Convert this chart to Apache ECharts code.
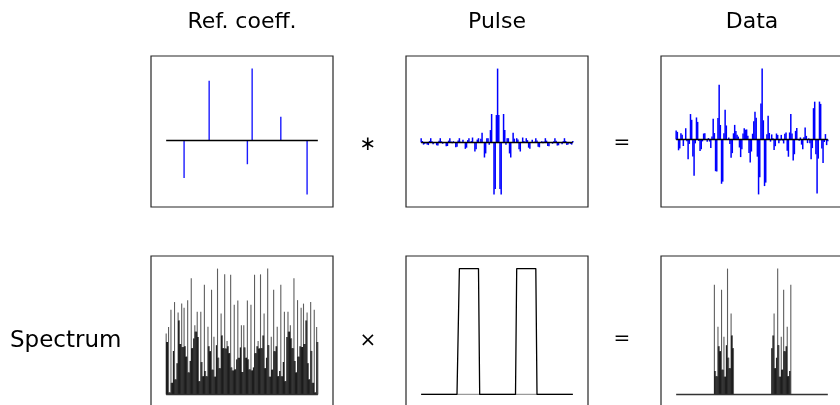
<!DOCTYPE html>
<html><head><meta charset="utf-8">
<script src="https://cdn.jsdelivr.net/npm/echarts@6/dist/echarts.min.js"></script>
<style>html,body{margin:0;padding:0;background:#fff}#c{width:840px;height:405px}</style>
</head><body><div id="c"></div>
<script>
// ---------- data ----------
const nSamples = 128;
const columnTitles = ['Ref. coeff.', 'Pulse', 'Data'];
const rowLabel = 'Spectrum';
const operators = ['\u2217', '=', '\u00D7', '='];

// reflection coefficients: sample index and amplitude
const refPositions = [15, 36, 68, 72, 96, 118];
const refValues = [-0.52, 0.83, -0.33, 1.0, 0.33, -0.75];

// zero-phase band-pass pulse, 128 samples, peak at sample 64
const pulseValues = [
0.059, 0.021, -0.028, -0.017, 0, -0.027, -0.034, 0.022, 0.059, 0.019,
-0.022, -0.007, 0, -0.037, -0.040, 0.024, 0.059, 0.017, -0.016, 0.004,
0, -0.049, -0.047, 0.026, 0.059, 0.015, -0.008, 0.018, 0, -0.064,
-0.056, 0.029, 0.059, 0.012, 0.003, 0.037, 0, -0.085, -0.069, 0.033,
0.059, 0.007, 0.020, 0.068, 0, -0.121, -0.092, 0.040, 0.059, -0.002,
0.053, 0.131, 0, -0.202, -0.147, 0.059, 0.059, -0.029, 0.169, 0.386,
0, -0.701, -0.628, 0.372, 1.000, 0.372, -0.628, -0.701, 0, 0.386,
0.169, -0.029, 0.059, 0.059, -0.147, -0.202, 0, 0.131, 0.053, -0.002,
0.059, 0.040, -0.092, -0.121, 0, 0.068, 0.020, 0.007, 0.059, 0.033,
-0.069, -0.085, 0, 0.037, 0.003, 0.012, 0.059, 0.029, -0.056, -0.064,
0, 0.018, -0.008, 0.015, 0.059, 0.026, -0.047, -0.049, 0, 0.004,
-0.016, 0.017, 0.059, 0.024, -0.040, -0.037, 0, -0.007, -0.022, 0.019,
0.059, 0.022, -0.034, -0.027, 0, -0.017, -0.028, 0.021];

// recorded trace, 128 samples
const dataValues = [
0.130, 0.110, -0.155, -0.129, 0.091, 0.068, -0.094, 0.003, 0.162, -0.026,
-0.283, -0.064, 0.366, 0.283, -0.245, -0.520, -0.056, 0.317, 0.253, -0.022,
-0.165, -0.141, -0.027, 0.086, 0.090, -0.006, -0.032, 0.021, -0.030, -0.122,
0.044, 0.297, 0.093, -0.456, -0.459, 0.308, 0.789, 0.209, -0.637, -0.606,
0.091, 0.429, 0.202, 0.005, 0.028, -0.066, -0.261, -0.196, 0.089, 0.210,
0.121, 0.067, 0.042, -0.115, -0.253, -0.140, 0.086, 0.163, 0.141, 0.144,
0.054, -0.195, -0.331, -0.173, 0.083, 0.262, 0.398, 0.313, -0.247, -0.790,
-0.544, 0.518, 1.020, 0.276, -0.670, -0.620, 0.074, 0.343, 0.094, -0.031,
0.073, 0.018, -0.151, -0.096, 0.086, 0.066, -0.054, -0.013, 0.066, -0.015,
-0.057, 0.084, 0.101, -0.161, -0.248, 0.101, 0.365, 0.087, -0.302, -0.212,
0.124, 0.165, -0.003, -0.019, 0.030, -0.074, -0.139, 0.034, 0.172, 0.052,
-0.052, 0.016, -0.055, -0.285, -0.124, 0.451, 0.544, -0.212, -0.776, -0.275,
0.545, 0.512, -0.129, -0.339, -0.036, 0.078, -0.081, -0.027];

// amplitude spectrum of the reflection coefficients (zero frequency at 64)
const refSpectrum = [
1.58, 1.36, 1.75, 0.05, 2.20, 0.30, 1.13, 2.40, 0.39, 0.81,
2.13, 1.92, 1.31, 2.36, 1.23, 2.25, 1.25, 0.98, 2.45, 0.57,
0.87, 3.02, 1.20, 1.45, 1.80, 1.63, 2.15, 1.49, 0.34, 2.15,
0.84, 0.47, 2.85, 0.61, 0.47, 1.76, 1.25, 1.12, 2.72, 0.64,
1.50, 0.46, 1.28, 3.27, 0.95, 0.68, 2.10, 1.53, 1.20, 3.12,
1.19, 1.39, 1.25, 1.07, 3.11, 0.70, 0.62, 2.33, 0.65, 0.91,
2.44, 0.95, 1.22, 1.80, 0.58, 1.80, 1.22, 0.95, 2.44, 0.91,
0.65, 2.33, 0.62, 0.70, 3.11, 1.07, 1.25, 1.39, 1.19, 3.12,
1.20, 1.53, 2.10, 0.68, 0.95, 3.27, 1.28, 0.46, 1.50, 0.64,
2.72, 1.12, 1.25, 1.76, 0.47, 0.61, 2.85, 0.47, 0.84, 2.15,
0.34, 1.49, 2.15, 1.63, 1.80, 1.45, 1.20, 3.02, 0.87, 0.57,
2.45, 0.98, 1.25, 2.25, 1.23, 2.36, 1.31, 1.92, 2.13, 0.81,
0.39, 2.40, 1.13, 0.30, 2.20, 0.05, 1.75, 1.36];

// pulse amplitude spectrum (two pass bands)
const pulseSpectrum = [
0,0,0,0,0,0,0,0,0,0, 0,0,0,0,0,0,0,0,0,0,
0,0,0,0,0,0,0,0,0,0, 0,0,1,1,1,1,1,1,1,1,
1,1,1,1,1,1,1,1,1,0, 0,0,0,0,0,0,0,0,0,0,
0,0,0,0,0,0,0,0,0,0, 0,0,0,0,0,0,0,0,0,0,
1,1,1,1,1,1,1,1,1,1, 1,1,1,1,1,1,1,0,0,0,
0,0,0,0,0,0,0,0,0,0, 0,0,0,0,0,0,0,0,0,0,
0,0,0,0,0,0,0,0];

// amplitude spectrum of the data
const dataSpectrum = [
0,0,0,0,0,0,0,0,0,0, 0,0,0,0,0,0,0,0,0,0,
0,0,0,0,0,0,0,0,0,0, 0,0,2.85,0.61,0.47,1.76,1.25,1.12,2.72,0.64,
1.50,0.46,1.28,3.27,0.95,0.68,2.10,1.53,1.20,0, 0,0,0,0,0,0,0,0,0,0,
0,0,0,0,0,0,0,0,0,0, 0,0,0,0,0,0,0,0,0,0,
1.20,1.53,2.10,0.68,0.95,3.27,1.28,0.46,1.50,0.64, 2.72,1.12,1.25,1.76,0.47,0.61,2.85,0,0,0,
0,0,0,0,0,0,0,0,0,0, 0,0,0,0,0,0,0,0,0,0,
0,0,0,0,0,0,0,0];

// ---------- layout ----------
const colLeft = [151, 406, 661];
const rowTop = [56, 256];
const boxW = 182, boxH = 151;

function padRange(arr) {
  let lo = Math.min(0, ...arr), hi = Math.max(0, ...arr);
  const p = 0.1 * (hi - lo);
  return [lo - p, hi + p];
}
const xPad = 0.1 * (nSamples - 1);

const panels = [
  {kind: 'stem', bw: 1.4, color: '#1a1aff', pts: refPositions.map((p, i) => [p, refValues[i]]), vals: refValues},
  {kind: 'stem', bw: 1.5, color: '#0000ff', pts: pulseValues.map((v, i) => [i, v]), vals: pulseValues},
  {kind: 'stem', bw: 1.5, color: '#0000ff', pts: dataValues.map((v, i) => [i, v]), vals: dataValues},
  {kind: 'spec', pts: refSpectrum.map((v, i) => [i, v]), vals: refSpectrum},
  {kind: 'line', pts: pulseSpectrum.map((v, i) => [i, v]), vals: pulseSpectrum},
  {kind: 'spec', pts: dataSpectrum.map((v, i) => [i, v]), vals: dataSpectrum}
];

function stemRenderer(width, color) {
  return function (params, api) {
    const x = api.value(0), v = api.value(1);
    if (!v) return null;
    const p0 = api.coord([x, 0]);
    const p1 = api.coord([x, v]);
    return {type: 'rect',
      shape: {x: p0[0] - width / 2, y: Math.min(p0[1], p1[1]), width: width, height: Math.abs(p1[1] - p0[1])},
      style: {fill: color}};
  };
}

// dense spectrum look: thin grey line to each value, solid black where neighbouring values overlap
function specRenderer(vals) {
  return function (params, api) {
    const i = api.value(0), v = api.value(1);
    if (!v) return null;
    const p0 = api.coord([i, 0]);
    const p1 = api.coord([i, v]);
    const children = [{type: 'rect',
      shape: {x: p0[0] - 0.55, y: p1[1], width: 1.1, height: p0[1] - p1[1]},
      style: {fill: '#5e5e5e'}}];
    if (i + 1 < vals.length && vals[i + 1] > 0) {
      const lv = Math.min(v, vals[i + 1]);
      const q0 = api.coord([i + 1, 0]);
      const q1 = api.coord([i, lv]);
      children.push({type: 'rect',
        shape: {x: p0[0] - 0.15, y: q1[1], width: q0[0] - p0[0] + 0.3, height: p0[1] - q1[1]},
        style: {fill: '#0d0d0d'}});
    }
    return {type: 'group', children: children};
  };
}

const grids = [], xAxes = [], yAxes = [], series = [];
panels.forEach((pn, k) => {
  const r = Math.floor(k / 3), c = k % 3;
  grids.push({left: colLeft[c], top: rowTop[r], width: boxW, height: boxH,
    show: true, borderColor: '#262626', borderWidth: 1.2, backgroundColor: 'transparent',
    containLabel: false, outerBoundsMode: 'none'});
  const yr = padRange(pn.vals);
  const hidden = {axisLine: {show: false}, axisTick: {show: false}, axisLabel: {show: false}, splitLine: {show: false}};
  xAxes.push(Object.assign({type: 'value', gridIndex: k, min: -xPad, max: nSamples - 1 + xPad}, hidden));
  yAxes.push(Object.assign({type: 'value', gridIndex: k, min: yr[0], max: yr[1]}, hidden));
  const base = [[0, 0], [nSamples - 1, 0]];
  if (pn.kind === 'line') {
    series.push({type: 'line', xAxisIndex: k, yAxisIndex: k, data: base, symbol: 'none',
      lineStyle: {color: '#9a9a9a', width: 1.2}, z: 2, silent: true, animation: false});
    series.push({type: 'line', xAxisIndex: k, yAxisIndex: k, data: pn.pts, symbol: 'none',
      lineStyle: {color: '#000', width: 1.3}, z: 3, silent: true, animation: false});
  } else {
    series.push({type: 'custom', xAxisIndex: k, yAxisIndex: k, data: pn.pts,
      renderItem: pn.kind === 'spec' ? specRenderer(pn.vals) : stemRenderer(pn.bw, pn.color),
      encode: {x: 0, y: 1}, z: 2, silent: true, animation: false});
    series.push({type: 'line', xAxisIndex: k, yAxisIndex: k, data: base, symbol: 'none',
      lineStyle: {color: pn.kind === 'spec' ? '#333' : '#000', width: 1.5}, z: 3, silent: true, animation: false});
  }
});

const graphics = [];
columnTitles.forEach((t, c) => graphics.push({type: 'text',
  x: colLeft[c] + boxW / 2, y: 22,
  style: {text: t, font: '22px "DejaVu Sans", sans-serif', fill: '#000', align: 'center', verticalAlign: 'middle'}}));
graphics.push({type: 'text', x: 10, y: 341,
  style: {text: rowLabel, font: '23px "DejaVu Sans", sans-serif', fill: '#000', align: 'left', verticalAlign: 'middle'}});
const opPos = [[368, 145], [622, 143], [368, 341], [622, 339]];
operators.forEach((o, i) => graphics.push({type: 'text', x: opPos[i][0], y: opPos[i][1],
  style: {text: o, font: '20px "DejaVu Sans", sans-serif', fill: '#000', align: 'center', verticalAlign: 'middle'}}));

const chart = echarts.init(document.getElementById('c'), null, {renderer: 'canvas'});
chart.setOption({animation: false, grid: grids, xAxis: xAxes, yAxis: yAxes, series: series, graphic: graphics});
</script></body></html>
